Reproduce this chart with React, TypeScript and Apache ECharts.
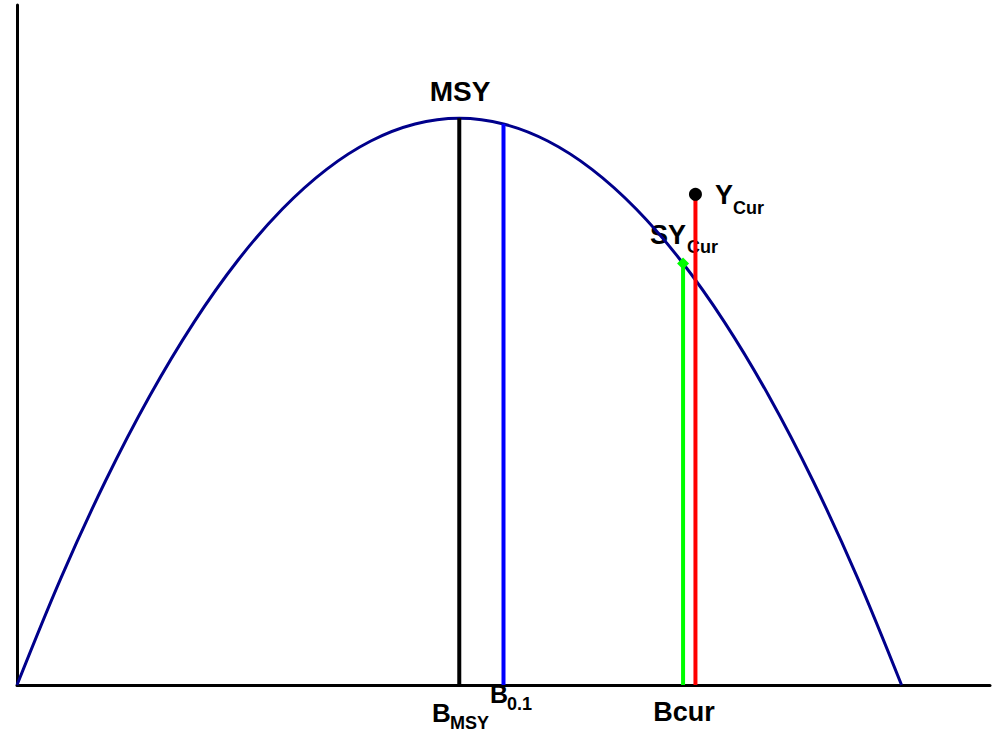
import React, { useEffect, useRef } from "react";
import * as echarts from "echarts";

// Surplus production curve (biomass, yield)
const curveB = [0, 5, 10, 15, 20, 25, 30, 35, 40, 45, 50, 55, 60, 65, 70, 75, 80, 85, 90, 95, 100];
const curveY = [0, 4.75, 9, 12.75, 16, 18.75, 21, 22.75, 24, 24.75, 25, 24.75, 24, 22.75, 21, 18.75, 16, 12.75, 9, 4.75, 0];

// Reference points
const bMsy = 50;
const msy = 25;
const b01 = 55;
const y01 = 24.75;
const bCurGreen = 75.3;
const syCur = 18.6;
const bCurRed = 76.7;
const yCur = 21.65;

const xMax = 110;
const yMax = 30;

export default function App() {
  const ref = useRef<HTMLDivElement>(null);
  useEffect(() => {
    document.body.style.margin = "0";
    const chart = echarts.init(ref.current!, null, { renderer: "svg" });
    const font = "'Liberation Sans', Arial, sans-serif";
    const txt = (text: string, x: number, y: number, size: number, align = "left") => ({
      type: "text",
      x,
      y,
      style: {
        text,
        fill: "#000",
        font: `bold ${size}px ${font}`,
        textAlign: align,
        textVerticalAlign: "middle",
      },
    });
    const vline = (b: number, top: number, color: string, symbol: string, size: number, symColor: string) => ({
      type: "line",
      data: [
        { value: [b, 0], symbol: "none" },
        { value: [b, top], symbol, symbolSize: size, itemStyle: { color: symColor } },
      ],
      lineStyle: { color, width: 4 },
      itemStyle: { color: symColor },
      showSymbol: true,
      z: 3,
    });
    chart.setOption({
      animation: false,
      grid: { left: 17, top: 5, right: 4, bottom: 46 },
      xAxis: {
        type: "value",
        min: 0,
        max: xMax,
        axisLine: { show: true, lineStyle: { color: "#000", width: 3 } },
        axisTick: { show: false },
        axisLabel: { show: false },
        splitLine: { show: false },
      },
      yAxis: {
        type: "value",
        min: 0,
        max: yMax,
        axisLine: { show: true, lineStyle: { color: "#000", width: 3 } },
        axisTick: { show: false },
        axisLabel: { show: false },
        splitLine: { show: false },
      },
      series: [
        {
          type: "line",
          data: curveB.map((b, i) => [b, curveY[i]]),
          smooth: 0.35,
          showSymbol: false,
          lineStyle: { color: "#00008B", width: 3 },
          z: 2,
        },
        vline(bMsy, msy, "#000000", "none", 0, "#000"),
        vline(b01, y01, "#0000FF", "none", 0, "#0000FF"),
        vline(bCurGreen, syCur, "#00FF00", "diamond", 12, "#00FF00"),
        vline(bCurRed, yCur, "#FF0000", "circle", 13, "#000000"),
      ],
      graphic: [
        txt("MSY", 460, 91, 28, "center"),
        txt("B", 432, 712.5, 26),
        txt("MSY", 450, 722.5, 18),
        txt("B", 490, 694, 25),
        txt("0.1", 507, 703.5, 18),
        txt("Bcur", 684, 712, 27, "center"),
        txt("Y", 715, 195, 27),
        txt("Cur", 733, 207.5, 18),
        txt("SY", 650, 235, 27),
        txt("Cur", 687, 246.5, 18),
      ],
    });
    return () => chart.dispose();
  }, []);
  return <div ref={ref} style={{ width: 994, height: 731 }} />;
}
